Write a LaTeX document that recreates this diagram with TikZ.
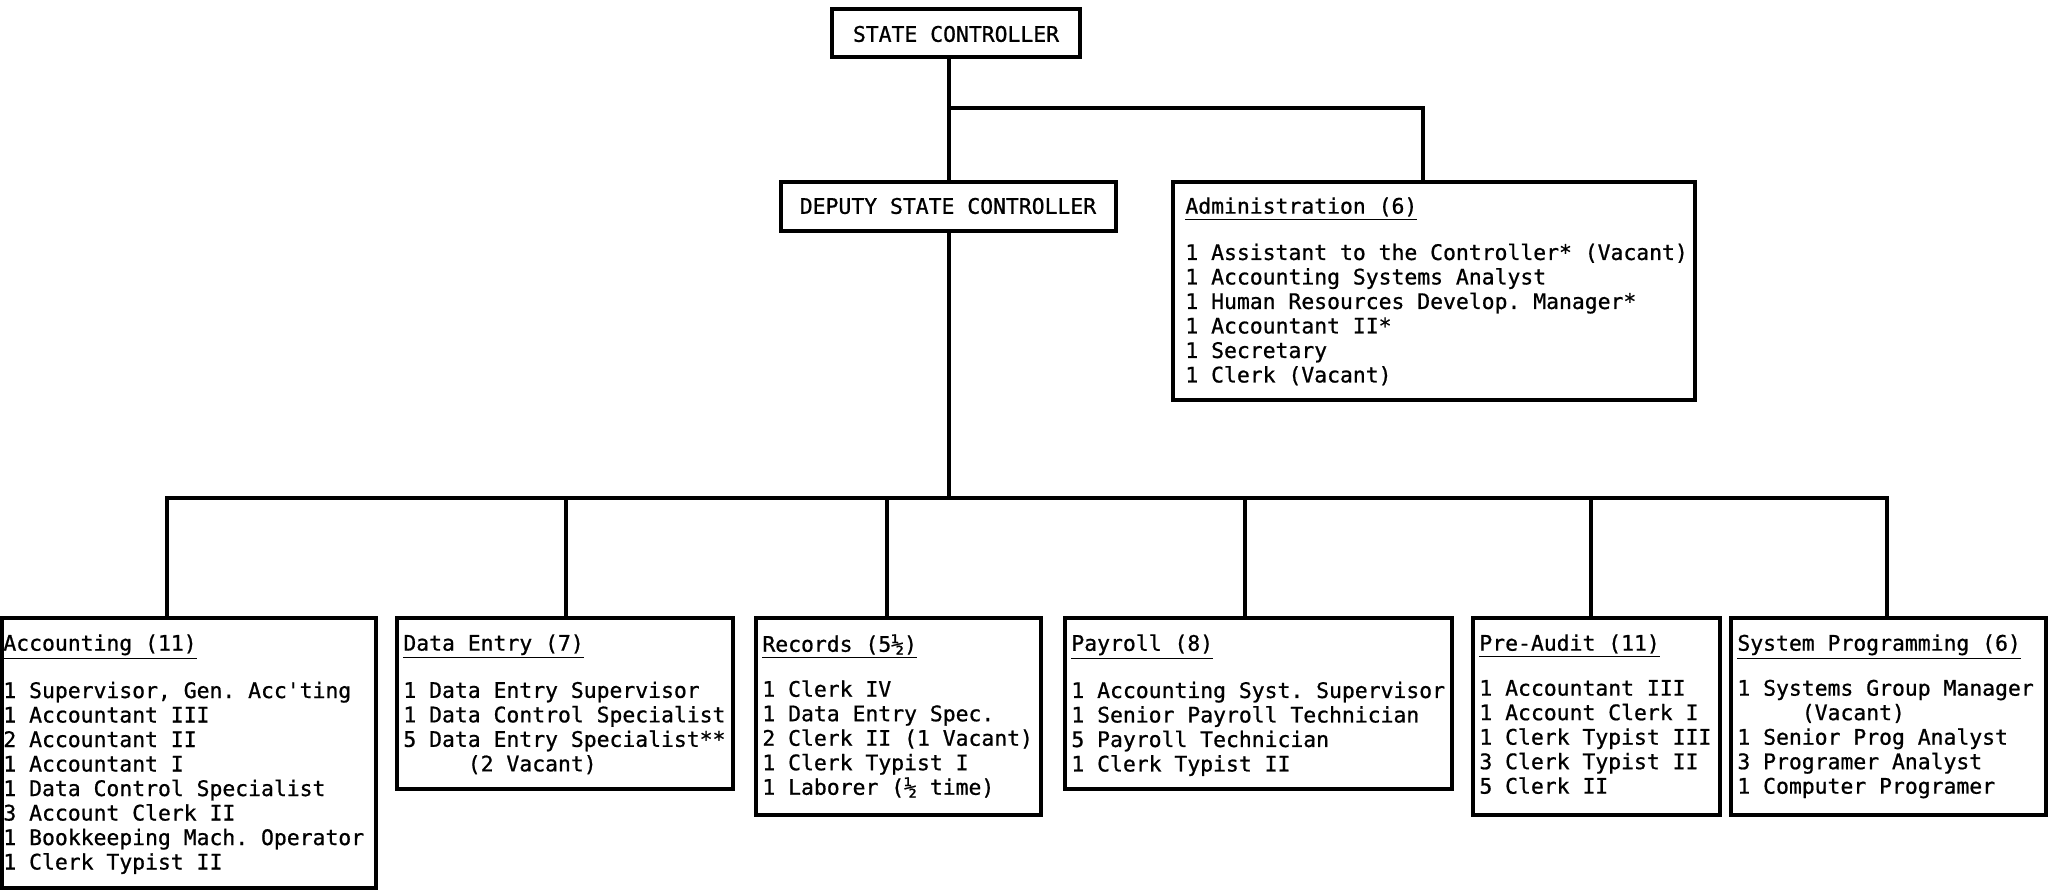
\documentclass[tikz,border=0pt]{standalone}
\usepackage{fontspec}
\setmonofont[FakeBold=0.8]{DejaVu Sans Mono}
\usetikzlibrary{fit}
\begin{document}
\begin{tikzpicture}[x=0.5pt,y=-0.5pt,
  box/.style={draw, line width=2pt, inner sep=0pt},
  wire/.style={line width=2pt, line cap=rect},
  txt/.style={font=\ttfamily\fontsize{10.7}{12.25}\selectfont, align=left, inner sep=0pt, anchor=north west},
  ctr/.style={font=\ttfamily\fontsize{10.7}{12.25}\selectfont, inner sep=0pt}]
\useasboundingbox[fill=white] (0,0) rectangle (2059,892);

% boxes
\node[box, fit={(832,9) (1080,57)}] (sc) {};
\node[box, fit={(781,182) (1116,231)}] (dep) {};
\node[box, fit={(1173,182) (1695,400)}] (adm) {};
\node[box, fit={(2,618) (376,888)}] (acc) {};
\node[box, fit={(397,618) (733,789)}] (de) {};
\node[box, fit={(756,618) (1041,815)}] (rec) {};
\node[box, fit={(1065,618) (1452,789)}] (pay) {};
\node[box, fit={(1473,618) (1720,815)}] (pa) {};
\node[box, fit={(1731,618) (2046,815)}] (sp) {};

% box texts
\node[ctr] (sct) at (956,34) {STATE CONTROLLER};
\node[ctr] (dept) at (948,206) {DEPUTY STATE CONTROLLER};

\node[txt] (admt) at ([shift={(14,17)}]adm.north west) {\underline{Administration (6)}\\[10.9pt]
1 Assistant to the Controller* (Vacant)\\
1 Accounting Systems Analyst\\
1 Human Resources Develop. Manager*\\
1 Accountant II*\\
1 Secretary\\
1 Clerk (Vacant)};

\node[txt] (acct) at ([shift={(3,18)}]acc.north west) {\underline{Accounting (11)}\\[10.25pt]
1 Supervisor, Gen. Acc'ting\\
1 Accountant III\\
2 Accountant II\\
1 Accountant I\\
1 Data Control Specialist\\
3 Account Clerk II\\
1 Bookkeeping Mach. Operator\\
1 Clerk Typist II};

\node[txt] (det) at ([shift={(8,18)}]de.north west) {\underline{Data Entry (7)}\\[10.25pt]
1 Data Entry Supervisor\\
1 Data Control Specialist\\
5 Data Entry Specialist**\\
\phantom{00000}(2 Vacant)};

\node[txt] (rect) at ([shift={(8,18)}]rec.north west) {\underline{Records (5½)}\\[10.25pt]
1 Clerk IV\\
1 Data Entry Spec.\\
2 Clerk II (1 Vacant)\\
1 Clerk Typist I\\
1 Laborer (½ time)};

\node[txt] (payt) at ([shift={(8,18)}]pay.north west) {\underline{Payroll (8)}\\[10.25pt]
1 Accounting Syst. Supervisor\\
1 Senior Payroll Technician\\
5 Payroll Technician\\
1 Clerk Typist II};

\node[txt] (pat) at ([shift={(8,18)}]pa.north west) {\underline{Pre-Audit (11)}\\[10.25pt]
1 Accountant III\\
1 Account Clerk I\\
1 Clerk Typist III\\
3 Clerk Typist II\\
5 Clerk II};

\node[txt] (spt) at ([shift={(8,18)}]sp.north west) {\underline{System Programming (6)}\\[10.25pt]
1 Systems Group Manager\\
\phantom{00000}(Vacant)\\
1 Senior Prog Analyst\\
3 Programer Analyst\\
1 Computer Programer};

% junction points
\coordinate (j1) at (949,108);
\coordinate (j2) at (949,498);
\coordinate (aj) at (1423,108);
\coordinate (dA) at (167,498);
\coordinate (dB) at (566,498);
\coordinate (dC) at (887,498);
\coordinate (dD) at (1245,498);
\coordinate (dE) at (1591,498);
\coordinate (dF) at (1887,498);

% connectors
\draw[wire] (j1 |- sc.south) -- (j1 |- dep.north);
\draw[wire] (j1) -- (aj) -- (aj |- adm.north);
\draw[wire] (j1 |- dep.south) -- (j2);
\draw[wire] (dA) -- (dF);
\draw[wire] (dA) -- (dA |- acc.north);
\draw[wire] (dB) -- (dB |- de.north);
\draw[wire] (dC) -- (dC |- rec.north);
\draw[wire] (dD) -- (dD |- pay.north);
\draw[wire] (dE) -- (dE |- pa.north);
\draw[wire] (dF) -- (dF |- sp.north);
\end{tikzpicture}
\end{document}
